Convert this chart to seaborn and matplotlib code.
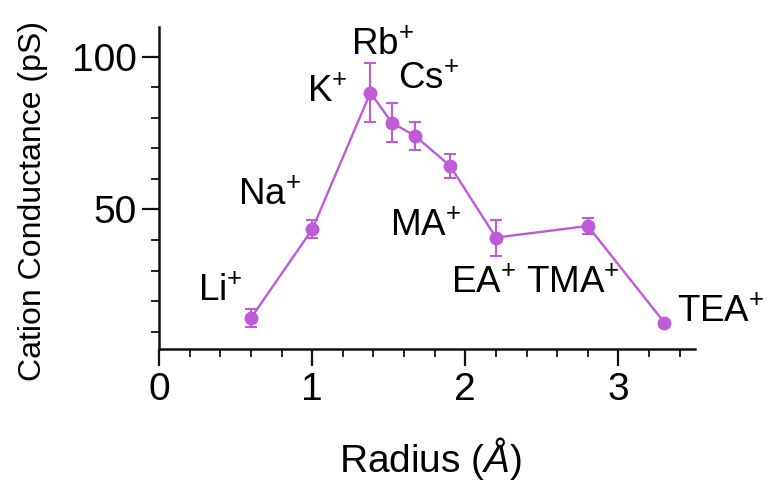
import numpy as np
import matplotlib
matplotlib.use("Agg")
import matplotlib.pyplot as plt
from matplotlib.ticker import MultipleLocator
import seaborn as sns
import pandas as pd

# ionic radius (Å) vs conductance (pS)
ions = ["Li", "Na", "K", "Rb", "Cs", "MA", "EA", "TMA", "TEA"]
radius = [0.60, 1.00, 1.38, 1.52, 1.67, 1.90, 2.20, 2.80, 3.30]
conductance = [14.5, 43.5, 88.2, 78.4, 74.1, 64.3, 40.8, 44.6, 13.0]
err = [3.0, 2.9, 9.6, 6.4, 4.5, 3.9, 5.9, 2.6, 0.0]

# where each ion name sits (data coords)
label_x = [0.40, 0.72, 1.10, 1.46, 1.76, 1.74, 2.12, 2.70, 3.67]
label_y = [23.3, 54.8, 88.5, 103.8, 92.7, 44.6, 25.9, 25.9, 16.5]

df = pd.DataFrame({"radius": radius, "conductance": conductance, "err": err})

sns.set_style("ticks")
plt.rcParams["font.family"] = ["Liberation Sans", "DejaVu Sans"]
plt.rcParams["mathtext.fontset"] = "custom"
plt.rcParams["mathtext.rm"] = "Liberation Sans"
plt.rcParams["mathtext.it"] = "Liberation Sans:italic"
for k in ["text.color", "axes.labelcolor", "xtick.color", "ytick.color"]:
    plt.rcParams[k] = "black"

purple = "#bf5ad8"

fig = plt.figure(figsize=(7.8, 4.82), dpi=100)
ax = fig.add_axes([0.204, 0.275, 0.687, 0.669])

ax.errorbar(df["radius"], df["conductance"], yerr=df["err"], fmt="none",
            ecolor=purple, elinewidth=1.5, capsize=4.5, capthick=1.5, zorder=2)
sns.lineplot(data=df, x="radius", y="conductance", color=purple, marker="o",
             markersize=10, markeredgewidth=0, linewidth=1.7, ax=ax, zorder=3)

for name, lx, ly in zip(ions, label_x, label_y):
    ax.text(lx, ly, name + r"$^{+}$", fontsize=26.5, ha="center", va="center",
            color="black", clip_on=False)

ax.set_xlim(0, 3.5)
ax.set_ylim(4.2, 109.7)
ax.xaxis.set_major_locator(MultipleLocator(1))
ax.xaxis.set_minor_locator(MultipleLocator(0.2))
ax.set_yticks([50, 100])
ax.yaxis.set_minor_locator(MultipleLocator(10))

sns.despine(ax=ax)
for s in ["left", "bottom"]:
    ax.spines[s].set_linewidth(1.8)
    ax.spines[s].set_color("#111111")

ax.tick_params(which="major", length=12, width=1.6, labelsize=28, pad=4,
               color="#111111")
ax.tick_params(which="minor", length=6, width=1.3, color="#111111")

ax.set_xlabel(r"Radius ($\mathit{Å}$)", fontsize=28, va="center")
ax.set_ylabel("Cation Conductance (pS)", fontsize=23, va="center")
ax.xaxis.set_label_coords(0.506, -0.337)
ax.yaxis.set_label_coords(-0.235, 0.46)

fig.savefig("out.png", dpi=100)
